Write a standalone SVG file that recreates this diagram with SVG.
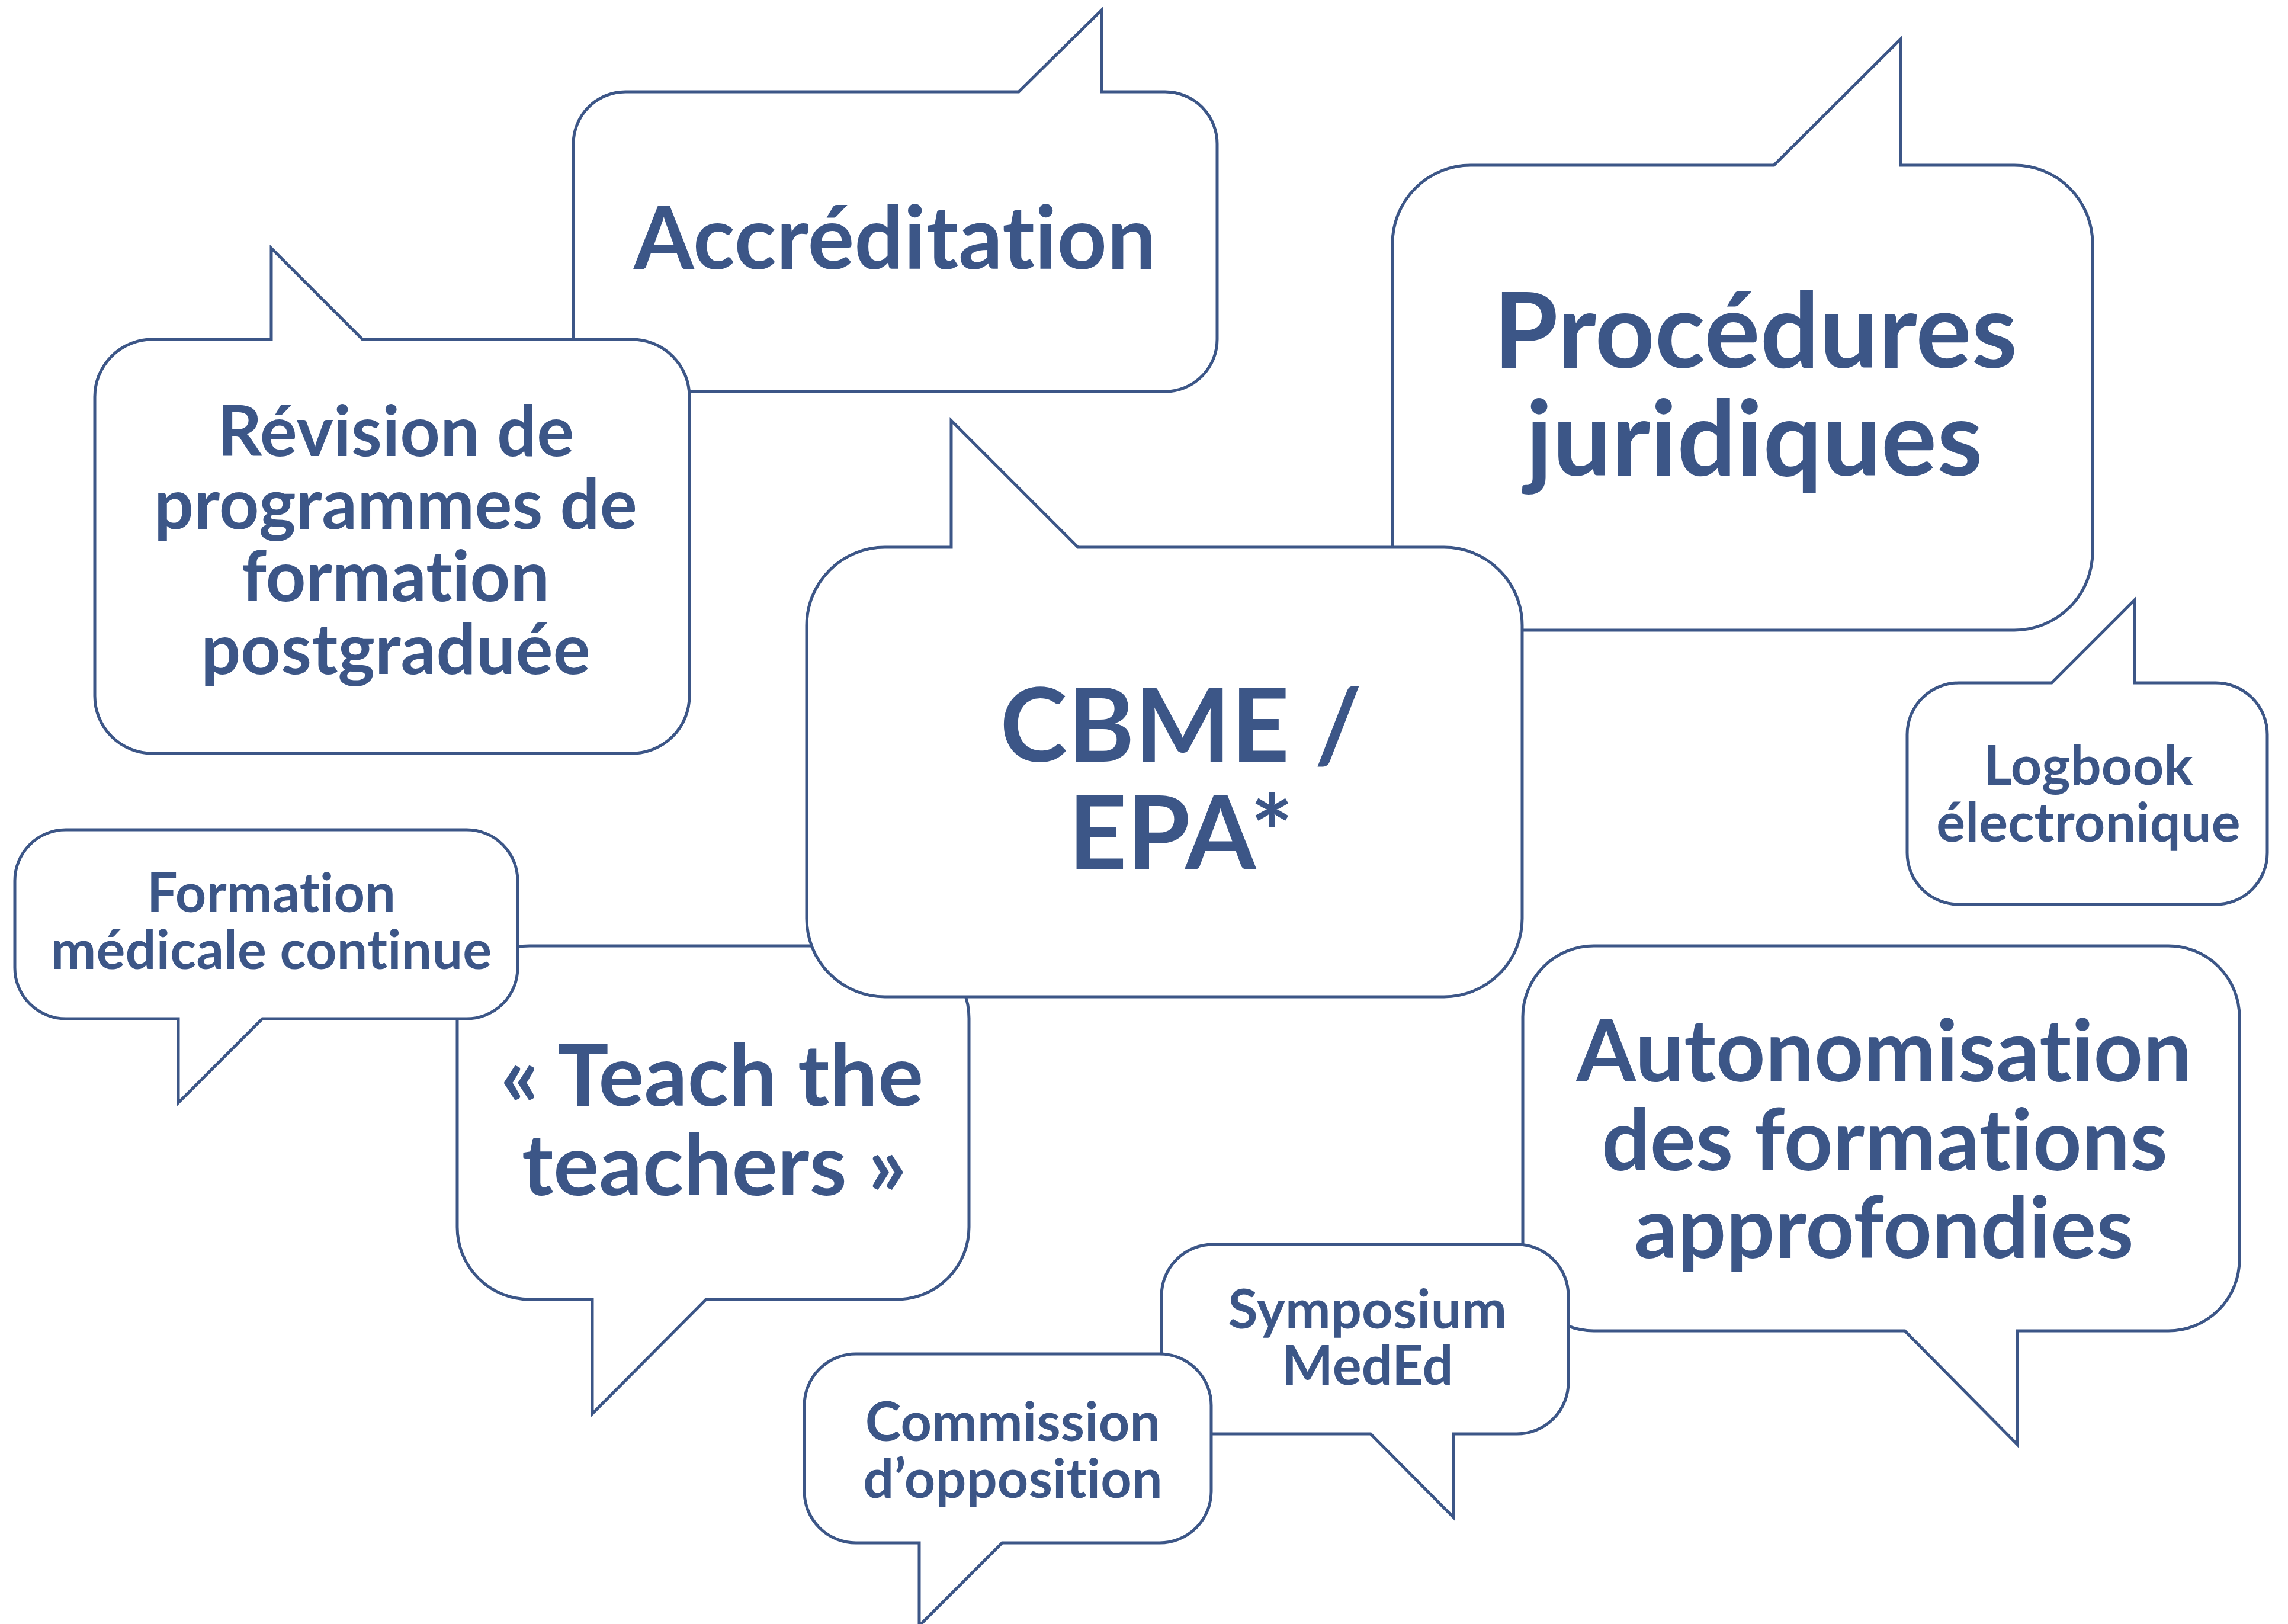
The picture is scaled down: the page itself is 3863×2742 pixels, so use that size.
<svg xmlns="http://www.w3.org/2000/svg" width="3863" height="2742" viewBox="0 0 3863 2742">
<style>
.b{fill:#fff;stroke:#3C5687;stroke-width:5;stroke-linejoin:miter}
.t{fill:#3C5687;font-family:Lato,"Open Sans","Liberation Sans",sans-serif;font-weight:700;text-anchor:middle;letter-spacing:0.2px;font-variant-ligatures:none;font-feature-settings:"liga" 0,"clig" 0,"calt" 0,"dlig" 0}
.s{font-size:91.5px}
.m{font-size:144px}
.l{font-size:172px}
</style>
<rect width="3863" height="2742" fill="#fff"/>
<g id="connectors"></g>
<g id="accreditation">
<path class="b" d="M1056 155 H1720 L1860 17 V155 H1967 A88 88 0 0 1 2055 243 V573 A88 88 0 0 1 1967 661 H1056 A88 88 0 0 1 968 573 V243 A88 88 0 0 1 1056 155 Z"/>
<text class="t" style="font-size:147px" x="1511" y="454">Accréditation</text>
</g>
<g id="revision">
<path class="b" d="M257 573 H458 V419 L612 573 H1067 A97 97 0 0 1 1164 670 V1175 A97 97 0 0 1 1067 1272 H257 A97 97 0 0 1 160 1175 V670 A97 97 0 0 1 257 573 Z"/>
<text class="t" style="font-size:118px" x="668" y="770">Révision de</text>
<text class="t" style="font-size:118px" x="668" y="893">programmes de</text>
<text class="t" style="font-size:118px" x="668" y="1015">formation</text>
<text class="t" style="font-size:118px" x="668" y="1138">postgraduée</text>
</g>
<g id="procedures">
<path class="b" d="M2483 279 H2995 L3209 66 V279 H3401 A132 132 0 0 1 3533 411 V932 A132 132 0 0 1 3401 1064 H2483 A132 132 0 0 1 2351 932 V411 A132 132 0 0 1 2483 279 Z"/>
<text class="t" style="font-size:176px" x="2964" y="621">Procédures</text>
<text class="t" style="font-size:176px" x="2962" y="803">juridiques</text>
</g>
<g id="teach">
<path class="b" d="M894 1597 H1514 A122 122 0 0 1 1636 1719 V2072 A122 122 0 0 1 1514 2194 H1192 L1000 2387 V2194 H894 A122 122 0 0 1 772 2072 V1719 A122 122 0 0 1 894 1597 Z"/>
<text class="t m" x="1202" y="1867">« Teach the</text>
<text class="t m" x="1206" y="2018">teachers »</text>
</g>
<g id="cbme">
<path class="b" d="M1494 924 H1606 V710 L1820 924 H2438 A132 132 0 0 1 2570 1056 V1551 A132 132 0 0 1 2438 1683 H1494 A132 132 0 0 1 1362 1551 V1056 A132 132 0 0 1 1494 924 Z"/>
<text class="t l" x="1994" y="1286">CBME /</text>
<text class="t l" x="1994" y="1468">EPA*</text>
</g>
<g id="formation">
<path class="b" d="M111 1401 H788 A86 86 0 0 1 874 1487 V1634 A86 86 0 0 1 788 1720 H443 L301 1862 V1720 H111 A86 86 0 0 1 25 1634 V1487 A86 86 0 0 1 111 1401 Z"/>
<text class="t s" x="458" y="1540">Formation</text>
<text class="t s" x="458" y="1636">médicale continue</text>
</g>
<g id="logbook">
<path class="b" d="M3307 1153 H3464 L3604 1013 V1153 H3741 A87 87 0 0 1 3828 1240 V1440 A87 87 0 0 1 3741 1527 H3307 A87 87 0 0 1 3220 1440 V1240 A87 87 0 0 1 3307 1153 Z"/>
<text class="t s" x="3526" y="1325">Logbook</text>
<text class="t s" x="3526" y="1421">électronique</text>
</g>
<g id="autonomisation">
<path class="b" d="M2691 1597 H3661 A120 120 0 0 1 3781 1717 V2127 A120 120 0 0 1 3661 2247 H3406 V2439 L3216 2247 H2691 A120 120 0 0 1 2571 2127 V1717 A120 120 0 0 1 2691 1597 Z"/>
<text class="t" style="font-size:145.5px" x="3181" y="1826">Autonomisation</text>
<text class="t m" x="3182" y="1976">des formations</text>
<text class="t m" x="3181" y="2124">approfondies</text>
</g>
<g id="symposium">
<path class="b" d="M2048 2101 H2561 A87 87 0 0 1 2648 2188 V2334 A87 87 0 0 1 2561 2421 H2454 V2562 L2314 2421 H2048 A87 87 0 0 1 1961 2334 V2188 A87 87 0 0 1 2048 2101 Z"/>
<text class="t s" x="2309" y="2243">Symposium</text>
<text class="t s" x="2309" y="2338">MedEd</text>
</g>
<g id="commission">
<path class="b" d="M1445 2286 H1958 A87 87 0 0 1 2045 2373 V2518 A87 87 0 0 1 1958 2605 H1692 L1552 2745 V2605 H1445 A87 87 0 0 1 1358 2518 V2373 A87 87 0 0 1 1445 2286 Z"/>
<text class="t s" x="1710" y="2433">Commission</text>
<text class="t s" x="1710" y="2529">d’opposition</text>
</g>
</svg>
